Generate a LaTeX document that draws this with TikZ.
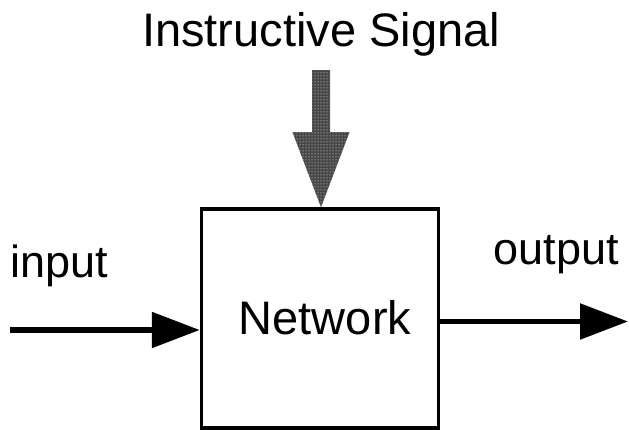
\documentclass[tikz,border=0pt]{standalone}
\usepackage{fontspec}
\setmainfont{Liberation Sans}
\usetikzlibrary{arrows.meta,calc,patterns}
\begin{document}
\begin{tikzpicture}[x=1pt,y=1pt,
  bigtext/.style={inner sep=0pt,anchor=base,font=\fontsize{47}{50}\selectfont},
  sidetext/.style={inner sep=0pt,anchor=base,font=\fontsize{45}{48}\selectfont},
  flow/.style={line width=5.5pt,-{Triangle[length=48pt,width=35pt]}},
  netbox/.style={draw,line width=3.5pt,minimum width=237pt,minimum height=219pt,inner sep=0pt}]
\useasboundingbox (0,0) rectangle (629,430);

% the network block
\node[netbox] (net) at (320,111.5) {};
\node[bigtext] (netlabel) at (325,95) {Network};

% labels
\node[bigtext] (signal) at (321,383) {Instructive Signal};
\node[sidetext] (inlabel) at (59,152) {input};
\node[sidetext] (outlabel) at (556,165) {output};

% input and output connectors
\coordinate (inend) at (10,100);
\coordinate (outend) at (628,108.5);
\draw[flow] (inend) -- (net.west |- inend);
\draw[flow] (net.east |- outend) -- (outend);

% halftone arrow carrying the instructive signal
\coordinate (tip) at ($(net.north)+(1,0)$);
\path[fill=black!72]
  ($(tip)+(-9,137)$) -- ($(tip)+(9,137)$) -- ($(tip)+(9,75)$) --
  ($(tip)+(28.5,75)$) -- (tip) -- ($(tip)+(-28.5,75)$) --
  ($(tip)+(-9,75)$) -- cycle;
\path[pattern=dots,pattern color=white]
  ($(tip)+(-9,137)$) -- ($(tip)+(9,137)$) -- ($(tip)+(9,75)$) --
  ($(tip)+(28.5,75)$) -- (tip) -- ($(tip)+(-28.5,75)$) --
  ($(tip)+(-9,75)$) -- cycle;
\end{tikzpicture}
\end{document}
